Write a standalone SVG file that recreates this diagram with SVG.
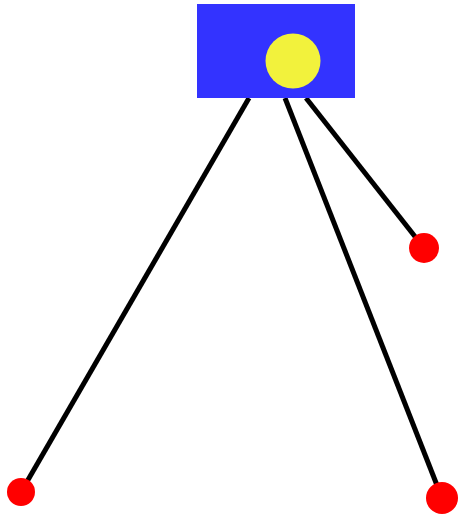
<svg xmlns="http://www.w3.org/2000/svg" width="458" height="516" viewBox="0 0 458 516">
<style>
.wire{stroke:#000;stroke-width:5;fill:none}
.dot{fill:#ff0000}
</style>
<rect width="458" height="516" fill="#fff"/>
<g id="connectors">
<line class="wire" x1="249" y1="98" x2="21" y2="492"/>
<line class="wire" x1="285" y1="98" x2="442" y2="498"/>
<line class="wire" x1="306" y1="98" x2="424" y2="248"/>
</g>
<g id="box">
<rect x="197" y="4" width="158" height="94" fill="#3333ff"/>
<circle cx="293" cy="61" r="27.5" fill="#f2f23c"/>
</g>
<g id="dot-right"><circle class="dot" cx="424" cy="248" r="15"/></g>
<g id="dot-left"><circle class="dot" cx="21" cy="492" r="14"/></g>
<g id="dot-bottom"><circle class="dot" cx="442" cy="498" r="16"/></g>
</svg>
